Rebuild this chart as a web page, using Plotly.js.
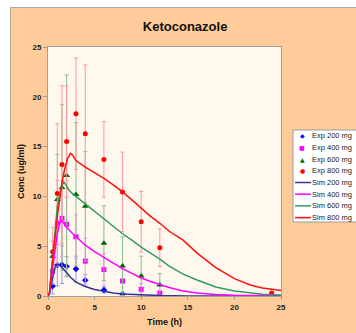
<!DOCTYPE html>
<html><head><meta charset="utf-8">
<script src="https://cdn.plot.ly/plotly-3.0.1.min.js"></script>
<style>html,body{margin:0;padding:0;background:#fff}</style>
</head><body><div id="chart" style="width:356px;height:333px"></div>
<script>
// ---- Experimental data ----
const expTime800 = [0.5, 1, 1.5, 2, 3, 4, 6, 8, 10, 12, 24];
const exp800 = [4.45, 10.3, 13.2, 15.5, 18.3, 16.3, 13.7, 10.45, 7.45, 4.85, 0.3];
const err800 = [2.45, 7.0, 7.9, 5.6, 5.6, 6.9, 3.8, 4.0, 3.05, 1.9, 0];

const expTime600 = [0.5, 1, 1.5, 2, 3, 4, 6, 8, 10, 12];
const exp600 = [4.0, 9.7, 10.9, 12.1, 10.2, 9.0, 5.3, 3.0, 2.0, 1.1];
const err600 = [1.5, 4.5, 8.3, 10.1, 7.2, 5.5, 3.75, 2.95, 2.0, 1.15];

const expTime400 = [0.5, 1, 1.5, 2, 3, 4, 6, 8, 10, 12];
const exp400 = [2.5, 7.3, 7.8, 7.2, 5.95, 3.5, 2.65, 1.5, 0.67, 0.27];
const err400 = [1.3, 4.3, 3.8, 4.4, 2.2, 2.3, 1.6, 1.2, 0.6, 0.3];

const expTime200 = [0.5, 1, 1.5, 2, 3, 4, 6, 8];
const exp200 = [1.0, 3.1, 3.15, 2.95, 2.7, 1.57, 0.6, 0.2];
const err200 = [0.8, 2.1, 1.9, 1.0, 1.3, 0.6, 0.3, 0.1];

// ---- Simulated curves ----
const simTime800 = [0, 0.15, 0.5, 1, 1.5, 1.8, 2.1, 2.4, 2.6, 2.8, 3, 4, 5, 6, 7, 8, 9, 10, 11, 12, 13, 14.5, 16, 18, 20, 21.7, 23, 25];
const sim800 = [0, 0.3, 3.6, 7.9, 11.4, 12.8, 13.8, 14.3, 14.2, 13.9, 13.6, 12.95, 12.4, 11.8, 11.15, 10.45, 9.65, 8.8, 8.0, 7.3, 6.5, 5.6, 4.3, 2.85, 1.75, 1.1, 0.8, 0.55];

const simTime600 = [0, 0.15, 0.5, 1, 1.4, 1.7, 1.9, 2.2, 2.6, 3, 4, 5, 6, 7, 8, 9, 10, 11, 12, 13, 14.5, 16, 18, 20, 21.7, 23, 25];
const sim600 = [0, 0.3, 3.8, 9.0, 10.9, 11.45, 11.2, 10.7, 10.3, 10.0, 9.25, 8.5, 7.7, 7.0, 6.25, 5.6, 4.9, 4.3, 3.7, 3.0, 2.2, 1.6, 0.9, 0.5, 0.28, 0.18, 0.1];

const simTime400 = [0, 0.15, 0.5, 1, 1.3, 1.45, 1.7, 2, 2.5, 3, 4, 5, 6, 7, 8, 9, 10, 11, 12, 13, 14.5, 16, 18, 20, 25];
const sim400 = [0, 0.2, 2.8, 6.3, 7.4, 7.6, 7.3, 6.9, 6.4, 5.95, 5.1, 4.45, 3.85, 3.3, 2.75, 2.25, 1.8, 1.45, 1.15, 0.85, 0.5, 0.3, 0.15, 0.08, 0.02];

const simTime200 = [0, 0.2, 0.5, 0.8, 1.05, 1.3, 1.6, 2, 2.5, 3, 4, 5, 6, 7, 8, 10, 12, 15, 25];
const sim200 = [0, 0.3, 1.9, 3.0, 3.2, 3.05, 2.75, 2.3, 1.8, 1.4, 0.95, 0.65, 0.45, 0.3, 0.2, 0.09, 0.04, 0.01, 0];

const xTicks = [0, 5, 10, 15, 20, 25];
const yTicks = [0, 5, 10, 15, 20, 25];

const legendNames = ['Exp 200 mg', 'Exp 400 mg', 'Exp 600 mg', 'Exp 800 mg', 'Sim 200 mg', 'Sim 400 mg', 'Sim 600 mg', 'Sim 800 mg'];

// ---- styles ----
const FONT = 'Arial, "Liberation Sans", sans-serif';
const expStyles = [
  {t: expTime200, y: exp200, e: err200, color: '#0000FF', ecol: '#9999DD', symbol: 'diamond', size: 5, glyph: '◆'},
  {t: expTime400, y: exp400, e: err400, color: '#FF00FF', ecol: '#FF99FF', symbol: 'square', size: 5, glyph: '■'},
  {t: expTime600, y: exp600, e: err600, color: '#006600', ecol: '#88C088', symbol: 'triangle-up', size: 6, glyph: '▲'},
  {t: expTime800, y: exp800, e: err800, color: '#FF0000', ecol: '#FF9999', symbol: 'circle', size: 5, glyph: '●'}
];
const simStyles = [
  {t: simTime200, y: sim200, color: '#333399'},
  {t: simTime400, y: sim400, color: '#FF00FF'},
  {t: simTime600, y: sim600, color: '#339966'},
  {t: simTime800, y: sim800, color: '#FF1010'}
];

const traces = [];
expStyles.forEach((s, i) => {
  traces.push({
    x: s.t, y: s.y, type: 'scatter', mode: 'markers', name: legendNames[i],
    marker: {color: s.color, symbol: s.symbol, size: s.size},
    error_y: {type: 'data', array: s.e, visible: true, color: s.ecol, thickness: 1, width: 2},
    showlegend: false, cliponaxis: false
  });
});
simStyles.forEach((s, i) => {
  traces.push({
    x: s.t, y: s.y, type: 'scatter', mode: 'lines', name: legendNames[4 + i],
    line: {color: s.color, width: 1.5}, showlegend: false
  });
});

// pixel -> paper helpers (plot area 48..281 x 47..296)
const PL = 48, PR = 281, PT = 47, PB = 296;
const px = v => (v - PL) / (PR - PL);
const py = v => (PB - v) / (PB - PT);

const shapes = [
  // white strips outside the orange frame
  {type: 'rect', xref: 'paper', yref: 'paper', x0: px(-5), x1: px(10), y0: py(340), y1: py(-5), fillcolor: '#FFFFFF', line: {width: 0}},
  {type: 'rect', xref: 'paper', yref: 'paper', x0: px(-5), x1: px(360), y0: py(7), y1: py(-5), fillcolor: '#FFFFFF', line: {width: 0}},
  {type: 'line', xref: 'paper', yref: 'paper', x0: px(10), x1: px(360), y0: py(7.5), y1: py(7.5), line: {color: '#B0A8A0', width: 1}},
  {type: 'line', xref: 'paper', yref: 'paper', x0: px(10.5), x1: px(10.5), y0: py(7), y1: py(340), line: {color: '#B0A8A0', width: 1}},
  // legend box
  {type: 'rect', xref: 'paper', yref: 'paper', x0: px(293), x1: px(362), y0: py(222), y1: py(130), fillcolor: '#FFFFFF', line: {color: '#9A9A9A', width: 1}}
];
const annotations = [];
legendNames.forEach((name, i) => {
  const rowY = py(135.7 + i * 11.7);
  if (i < 4) {
    annotations.push({xref: 'paper', yref: 'paper', x: px(302.3), y: rowY, text: expStyles[i].glyph, showarrow: false,
      xanchor: 'center', yanchor: 'middle', font: {family: 'DejaVu Sans', size: 6, color: expStyles[i].color}});
  } else {
    shapes.push({type: 'line', xref: 'paper', yref: 'paper', x0: px(295), x1: px(311), y0: rowY, y1: rowY,
      line: {color: simStyles[i - 4].color, width: 1.5}});
  }
  annotations.push({xref: 'paper', yref: 'paper', x: px(310), y: rowY, text: name, showarrow: false,
    xanchor: 'left', yanchor: 'middle', font: {family: FONT, size: 7.5, color: '#222222'}});
});

const layout = {
  width: 356, height: 333,
  margin: {l: 48, r: 75, t: 47, b: 37},
  paper_bgcolor: '#FFCC99',
  plot_bgcolor: '#FFF8EE',
  showlegend: false,
  title: {text: 'Ketoconazole', font: {family: FONT, size: 13, color: '#111111', weight: 'bold'},
    xref: 'container', yref: 'container', x: 0.52, y: 1 - 26 / 333, xanchor: 'center', yanchor: 'middle'},
  xaxis: {range: [0, 25], tickvals: xTicks, ticktext: xTicks.map(String), showgrid: false, zeroline: false,
    showline: true, linecolor: '#A0A0A0', linewidth: 1, mirror: true,
    ticks: 'outside', ticklen: 3, tickcolor: '#A0A0A0',
    tickfont: {family: FONT, size: 8, color: '#222222', weight: 'bold'},
    title: {text: 'Time (h)', font: {family: FONT, size: 9, color: '#111111', weight: 'bold'}, standoff: 8}},
  yaxis: {range: [0, 25], tickvals: yTicks, ticktext: yTicks.map(String), showgrid: false, zeroline: false,
    showline: true, linecolor: '#A0A0A0', linewidth: 1, mirror: true,
    ticks: 'outside', ticklen: 4, tickcolor: '#A0A0A0',
    tickfont: {family: FONT, size: 8, color: '#222222', weight: 'bold'},
    title: {text: 'Conc (ug/ml)', font: {family: FONT, size: 9, color: '#111111', weight: 'bold'}, standoff: 6}},
  shapes: shapes,
  annotations: annotations
};

Plotly.newPlot('chart', traces, layout, {displayModeBar: false, staticPlot: true});
</script>
</body></html>
